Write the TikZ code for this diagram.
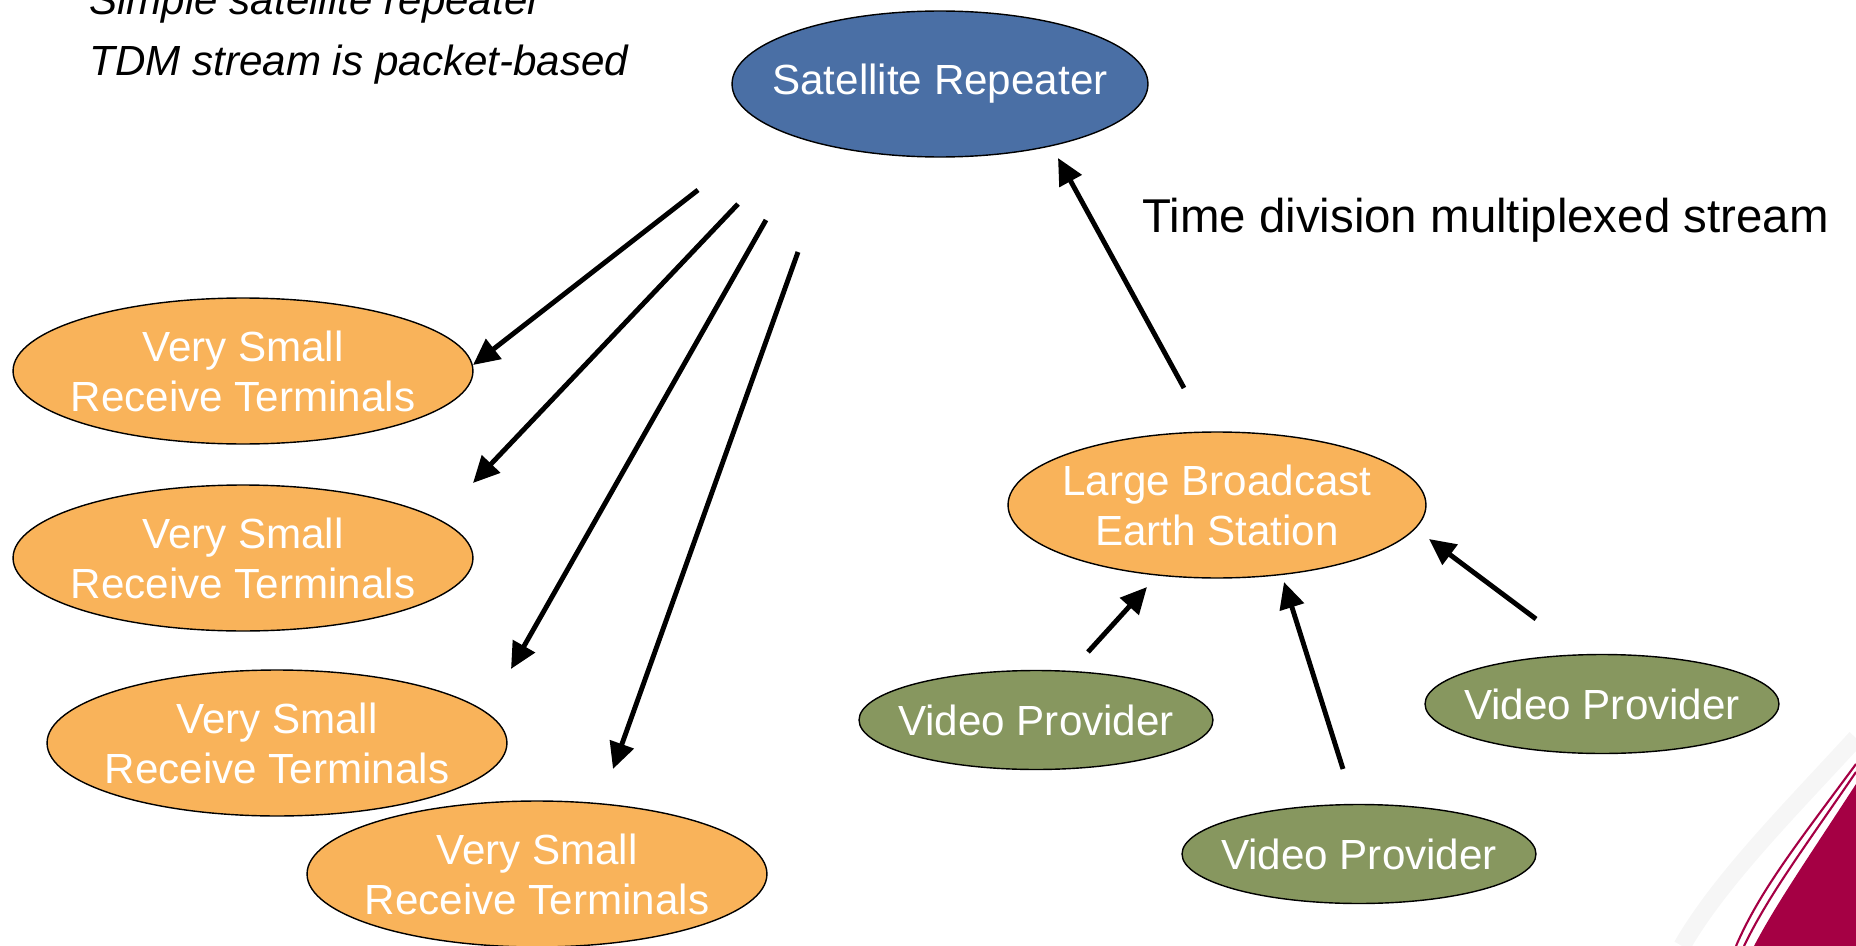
\documentclass[tikz,border=0pt]{standalone}
\usepackage{fontspec}
\setmainfont{Liberation Sans}
\usetikzlibrary{shapes.geometric,arrows.meta}
\definecolor{satblue}{RGB}{74,111,165}
\definecolor{vsatorange}{RGB}{249,179,90}
\definecolor{provgreen}{RGB}{135,151,95}
\definecolor{slidemaroon}{RGB}{165,0,68}
\tikzset{
  blob/.style={ellipse, draw=black, line width=0.8pt, inner xsep=-2cm, inner ysep=-1cm,
    text=white, align=center, font=\fontsize{24}{28.5}\selectfont},
  satnode/.style={blob, fill=satblue, minimum width=8.32cm, minimum height=2.92cm},
  termnode/.style={blob, fill=vsatorange, minimum width=9.2cm, minimum height=2.92cm},
  stationnode/.style={blob, fill=vsatorange, minimum width=8.36cm, minimum height=2.92cm},
  provnode/.style={blob, fill=provgreen, minimum width=7.08cm, minimum height=1.98cm},
  link/.style={line width=2.8pt, -{Triangle[length=15pt,width=14pt]}}
}
\begin{document}
\begin{tikzpicture}[x=0.02cm,y=-0.02cm]
\useasboundingbox (0,0) rectangle (1856,946);
\clip (0,0) rectangle (1856,946);
% slide corner
\draw[gray!7, line width=10pt] (1856,738) .. controls (1790,810) and (1720,880) .. (1682,946);
\draw[slidemaroon, line width=1.2pt] (1856,764) .. controls (1800,840) and (1760,890) .. (1736,946);
\draw[slidemaroon, line width=1.2pt] (1856,772) .. controls (1804,848) and (1768,896) .. (1744,946);
\fill[slidemaroon] (1856,784) .. controls (1808,858) and (1776,904) .. (1754,946) -- (1856,946) -- cycle;
% titles
\node[anchor=base west, font=\fontsize{24}{28}\selectfont\itshape, inner sep=0pt] (note1) at (89,15) {Simple satellite repeater};
\node[anchor=base west, font=\fontsize{24}{28}\selectfont\itshape, inner sep=0pt] (note2) at (89,76) {TDM stream is packet-based};
\node[anchor=base west, font=\fontsize{27}{32}\selectfont, inner sep=0pt] (tdm) at (1142,232) {Time division multiplexed stream};
% nodes
\node[satnode] (sat) at (940,84) {Satellite Repeater};
\node[termnode] (vsat1) at (243,371) {Very Small\\Receive Terminals};
\node[termnode] (vsat2) at (243,558) {Very Small\\Receive Terminals};
\node[termnode] (vsat3) at (277,743) {Very Small\\Receive Terminals};
\node[termnode] (vsat4) at (537,874) {Very Small\\Receive Terminals};
\node[stationnode] (earth) at (1217,505) {Large Broadcast\\Earth Station};
\node[provnode] (prov1) at (1036,720) {Video Provider};
\node[provnode] (prov2) at (1359,854) {Video Provider};
\node[provnode] (prov3) at (1602,704) {Video Provider};
% arrow ends
\coordinate (d1s) at (698,190); \coordinate (d1e) at (473,365);
\coordinate (d2s) at (738,204); \coordinate (d2e) at (473,483);
\coordinate (d3s) at (766,220); \coordinate (d3e) at (511,669);
\coordinate (d4s) at (798,252); \coordinate (d4e) at (613,769);
\coordinate (ups) at (1184,388); \coordinate (upe) at (1058,158);
\coordinate (p1s) at (1088,652); \coordinate (p1e) at (1147,587);
\coordinate (p2s) at (1343,769); \coordinate (p2e) at (1284,582);
\coordinate (p3s) at (1536,619); \coordinate (p3e) at (1429,539);
\foreach \s/\e in {d1s/d1e,d2s/d2e,d3s/d3e,d4s/d4e,ups/upe,p1s/p1e,p2s/p2e,p3s/p3e}
  \draw[link] (\s) -- (\e);
\end{tikzpicture}
\end{document}
